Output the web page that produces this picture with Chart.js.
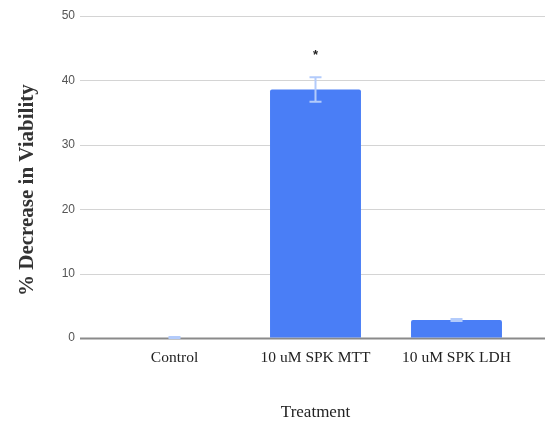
<!DOCTYPE html>
<html>
<head>
<meta charset="utf-8">
<script src="https://cdn.jsdelivr.net/npm/chart.js@4/dist/chart.umd.min.js"></script>
<style>
  html, body { margin: 0; padding: 0; background: #fff; overflow: hidden; }
  #wrap { width: 545px; height: 428px; }
</style>
</head>
<body>
<div id="wrap"><canvas id="c" width="545" height="428"></canvas></div>
<script>
const categories = ['Control', '10 uM SPK MTT', '10 uM SPK LDH'];
const decrease = [0, 38.6, 2.8];
const errors = [0.15, 1.9, 0.15];
const significance = ['', '*', ''];
const yTicks = [0, 10, 20, 30, 40, 50];

const barColor = '#4a7ef6';
const errColor = '#b3cbfb';
const serif = '"Liberation Serif", "DejaVu Serif", serif';

// horizontal grid lines spanning the full width, plus error bars and markers
const overlay = {
  id: 'overlay',
  beforeDatasetsDraw(chart) {
    const { ctx, scales: { y } } = chart;
    ctx.save();
    yTicks.forEach(v => {
      const py = Math.round(y.getPixelForValue(v)) + 0.5;
      ctx.strokeStyle = v === 0 ? '#8a8a8a' : '#d4d4d4';
      ctx.lineWidth = v === 0 ? 2 : 1;
      ctx.beginPath();
      ctx.moveTo(80, py);
      ctx.lineTo(545, py);
      ctx.stroke();
    });
    ctx.restore();
  },
  afterDatasetsDraw(chart) {
    const { ctx, scales: { x, y } } = chart;
    ctx.save();
    ctx.strokeStyle = errColor;
    ctx.lineWidth = 2;
    decrease.forEach((v, i) => {
      const cx = x.getPixelForValue(i);
      const top = y.getPixelForValue(v + errors[i]);
      const bot = y.getPixelForValue(Math.max(v - errors[i], 0));
      const hw = 6;
      ctx.beginPath();
      ctx.moveTo(cx, top); ctx.lineTo(cx, bot);
      ctx.moveTo(cx - hw, top); ctx.lineTo(cx + hw, top);
      ctx.moveTo(cx - hw, bot); ctx.lineTo(cx + hw, bot);
      ctx.stroke();
      if (significance[i]) {
        ctx.fillStyle = '#222';
        ctx.font = 'bold 13px "Liberation Sans", Arial, sans-serif';
        ctx.textAlign = 'center';
        ctx.textBaseline = 'middle';
        ctx.fillText(significance[i], cx, top - 22);
      }
    });
    ctx.restore();
  }
};

new Chart(document.getElementById('c'), {
  type: 'bar',
  data: {
    labels: categories,
    datasets: [{
      data: decrease,
      backgroundColor: barColor,
      borderRadius: { topLeft: 2, topRight: 2 },
      borderSkipped: 'bottom',
      barPercentage: 0.645,
      categoryPercentage: 1.0
    }]
  },
  options: {
    responsive: false,
    animation: false,
    devicePixelRatio: 1,
    layout: { padding: { left: 15, right: 18, top: 16, bottom: 0 } },
    plugins: {
      legend: { display: false },
      tooltip: { enabled: false }
    },
    scales: {
      x: {
        afterFit(scale) { scale.height = 90; },
        grid: { display: false, drawTicks: false },
        border: { display: false },
        ticks: {
          color: '#222',
          font: { family: serif, size: 15.5 },
          padding: 11
        },
        title: {
          display: true,
          text: 'Treatment',
          color: '#222',
          font: { family: serif, size: 17 },
          padding: { top: 0, bottom: 5 }
        }
      },
      y: {
        min: 0,
        max: 50,
        afterBuildTicks(scale) { scale.ticks = yTicks.map(v => ({ value: v })); },
        afterFit(scale) { scale.width = 89; },
        grid: {
          drawOnChartArea: false,
          drawTicks: true,
          tickLength: 24,
          tickColor: 'rgba(0,0,0,0)'
        },
        border: { display: false },
        ticks: {
          color: '#555',
          font: { family: '"Liberation Sans Narrow", "Liberation Sans", Arial, sans-serif', size: 12 },
          padding: 5
        },
        title: {
          display: true,
          // trailing spaces nudge the rotated title slightly lower
          text: '% Decrease in Viability     ',
          color: '#333',
          font: { family: serif, size: 21, weight: 'bold' },
          padding: { top: 0, bottom: 0 }
        }
      }
    }
  },
  plugins: [overlay]
});
</script>
</body>
</html>
